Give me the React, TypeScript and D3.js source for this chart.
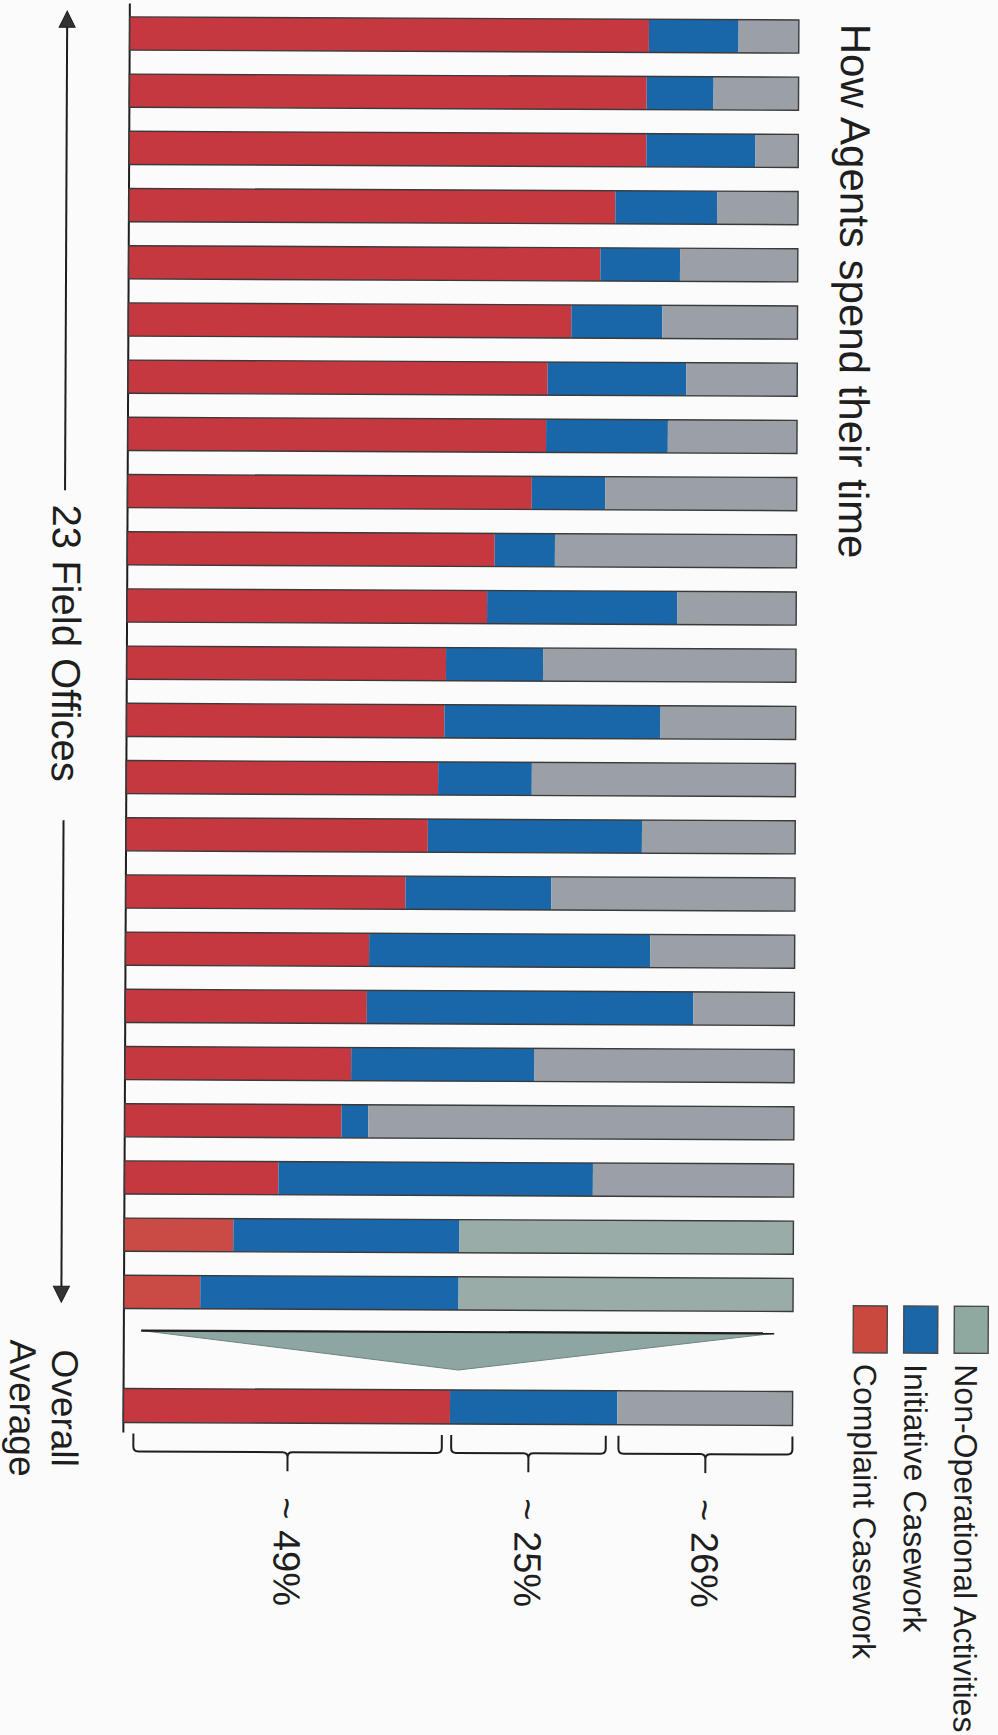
import React from "react";
import * as d3 from "d3";

// ---- data (percent of agent time) ----
const offices = [
  "FO 1", "FO 2", "FO 3", "FO 4", "FO 5", "FO 6", "FO 7", "FO 8", "FO 9", "FO 10",
  "FO 11", "FO 12", "FO 13", "FO 14", "FO 15", "FO 16", "FO 17", "FO 18", "FO 19",
  "FO 20", "FO 21", "FO 22", "FO 23",
];
const complaintCasework = [
  77.6, 77.3, 77.3, 72.7, 70.5, 66.2, 62.7, 62.5, 60.4, 54.9, 53.8, 47.7, 47.5,
  46.6, 45.1, 41.8, 36.4, 36.1, 33.8, 32.4, 23.0, 16.3, 11.4,
];
const initiativeCasework = [
  13.4, 10.0, 16.3, 15.2, 11.9, 13.6, 20.7, 18.2, 11.0, 9.0, 28.4, 14.5, 32.3,
  14.0, 32.0, 21.8, 42.0, 48.8, 27.4, 4.0, 47.0, 33.8, 38.6,
];
const nonOperational = [
  9.0, 12.7, 6.4, 12.1, 17.6, 20.2, 16.6, 19.3, 28.6, 36.1, 17.8, 37.8, 20.2,
  39.4, 22.9, 36.4, 21.6, 15.1, 38.8, 63.6, 30.0, 49.9, 50.0,
];
const overallAverage = [48.8, 25.0, 26.2];
const overallLabels = ["~ 49%", "~ 25%", "~ 26%"];
const seriesKeys = ["complaint", "initiative", "nonop"];
const legendLabels = ["Complaint Casework", "Initiative Casework", "Non-Operational Activities"];
const titleText = "How Agents spend their time";
const officesLabel = "23 Field Offices";
const overallText = ["Overall", "Average"];

// ---- styling ----
const FONT = "'Liberation Sans', Arial, Helvetica, sans-serif";
const barColors = ["#c63840", "#1966a9", "#9ba0a6"];
const altColors = ["#ca4a45", "#1a67ab", "#9aaca8"];
const altOffices = new Set(["FO 22", "FO 23"]);
const legendColors = ["#c9493f", "#1b66a6", "#8fa9a1"];
const INK = "#1e1e1e";
const braceInsetStart = [1.5, 0.2, 0.2];
const braceInsetEnd = [1.2, 1.7, 0];

export default function App() {
  const W = 998, H = 1735;
  const X0 = 126.6, X1 = 795.7;
  const x = d3.scaleLinear().domain([0, 100]).range([X0, X1]);
  const step = 57.2;
  const y = d3
    .scaleBand<string>()
    .domain(offices)
    .range([6.4, 6.4 + offices.length * step])
    .paddingInner(0.42)
    .paddingOuter(0.21);
  const bw = y.bandwidth();

  const rows = offices.map((o, i) => ({
    office: o,
    complaint: complaintCasework[i],
    initiative: initiativeCasework[i],
    nonop: nonOperational[i],
  }));
  const stack = d3.stack<any>().keys(seriesKeys);
  const stacked = stack(rows);

  const overallRow = [{ office: "overall", complaint: overallAverage[0], initiative: overallAverage[1], nonop: overallAverage[2] }];
  const overallStacked = stack(overallRow);
  const oTop = 1390, oH = 34;

  // braces
  const braceTop = 1435, braceMid = 1453, braceTip = 1472;
  const r = 5;
  const braces = overallStacked.map((s, k) => {
    const a = s[0][0], b = s[0][1];
    const xa = x(a + braceInsetStart[k]), xb = x(b - braceInsetEnd[k]), xm = (xa + xb) / 2;
    const d =
      `M${xa},${braceTop} L${xa},${braceMid - r} Q${xa},${braceMid} ${xa + r},${braceMid}` +
      ` L${xm - r},${braceMid} Q${xm},${braceMid} ${xm},${braceMid + r} L${xm},${braceTip}` +
      ` M${xm},${braceMid + r} Q${xm},${braceMid} ${xm + r},${braceMid}` +
      ` L${xb - r},${braceMid} Q${xb},${braceMid} ${xb},${braceMid - r} L${xb},${braceTop}`;
    return { xa, xb, xm, d, label: overallLabels[k] };
  });

  const arrowX = 64;
  const triTopY = 1332, triTipY = 1370;
  const triL = x(2.6), triR = x(97.2), triM = x(50);

  return (
    <svg
      width={W}
      height={H}
      style={{ position: "absolute", left: 0, top: 0, background: "#fbfbfb" }}
      fontFamily={FONT}
    >
      <rect x={0} y={0} width={W} height={H} fill="#fbfbfb" />
      <g transform="rotate(0.26 460 720)">
        {/* axis line */}
        <line x1={X0} x2={X0} y1={5} y2={1434} stroke={INK} strokeWidth={2} />

        {/* office bars */}
        {stacked.map((s, k) => (
          <g key={s.key}>
            {s.map((d, i) => (
              <rect
                key={i}
                x={x(d[0])}
                y={y(offices[i])}
                width={x(d[1]) - x(d[0])}
                height={bw}
                fill={(altOffices.has(offices[i]) ? altColors : barColors)[k]}
              />
            ))}
          </g>
        ))}
        {offices.map((o) => (
          <rect key={o} x={x(0)} y={y(o)} width={x(100) - x(0)} height={bw}
            fill="none" stroke="#3a3a3a" strokeWidth={1.4} />
        ))}

        {/* funnel triangle */}
        <path d={`M${triL},${triTopY} L${triR},${triTopY} L${triM},${triTipY} Z`}
          fill="#8ea6a1" stroke="#6f8580" strokeWidth={1} />
        <line x1={triL} x2={triR} y1={triTopY} y2={triTopY} stroke={INK} strokeWidth={2.2} />

        {/* overall bar */}
        {overallStacked.map((s, k) => (
          <rect key={s.key} x={x(s[0][0])} y={oTop} width={x(s[0][1]) - x(s[0][0])} height={oH} fill={barColors[k]} />
        ))}
        <rect x={x(0)} y={oTop} width={x(100) - x(0)} height={oH} fill="none" stroke="#3a3a3a" strokeWidth={1.4} />

        {/* braces + labels */}
        {braces.map((b, k) => (
          <g key={k}>
            <path d={b.d} fill="none" stroke={INK} strokeWidth={2} />
            <text transform={`translate(${b.xm - 13.5},1498) rotate(90)`} fontSize={38} fill={INK} textAnchor="start">
              {b.label}
            </text>
          </g>
        ))}

        {/* left arrow */}
        <line x1={arrowX} x2={arrowX} y1={26} y2={492} stroke={INK} strokeWidth={2} />
        <line x1={arrowX} x2={arrowX} y1={822} y2={1291} stroke={INK} strokeWidth={2} />
        <path d={`M${arrowX},13 L${arrowX - 8},29 L${arrowX + 8},29 Z`} fill="#333" stroke={INK} strokeWidth={1} />
        <path d={`M${arrowX},1304 L${arrowX - 8},1288 L${arrowX + 8},1288 Z`} fill="#333" stroke={INK} strokeWidth={1} />
        <text transform={`translate(52,645) rotate(90)`} fontSize={40} fill={INK} textAnchor="middle">
          {officesLabel}
        </text>

        {/* overall average label */}
        <text transform={`translate(55,1410) rotate(90)`} fontSize={37} fill={INK} textAnchor="middle">
          {overallText[0]}
        </text>
        <text transform={`translate(13,1410) rotate(90)`} fontSize={37} fill={INK} textAnchor="middle">
          {overallText[1]}
        </text>

        {/* title */}
        <text transform={`translate(838,22) rotate(90)`} fontSize={42} fill={INK} textAnchor="start">
          {titleText}
        </text>

        {/* legend */}
        {legendLabels.map((lab, k) => {
          const lx = 856 + k * 50.5;
          return (
            <g key={lab}>
              <rect x={lx} y={1304} width={34} height={47} fill={legendColors[k]} stroke="#4a4a4a" strokeWidth={1.4} />
              <text transform={`translate(${lx + 1},1362) rotate(90)`} fontSize={32} fill={INK} textAnchor="start">
                {lab}
              </text>
            </g>
          );
        })}
      </g>
    </svg>
  );
}
